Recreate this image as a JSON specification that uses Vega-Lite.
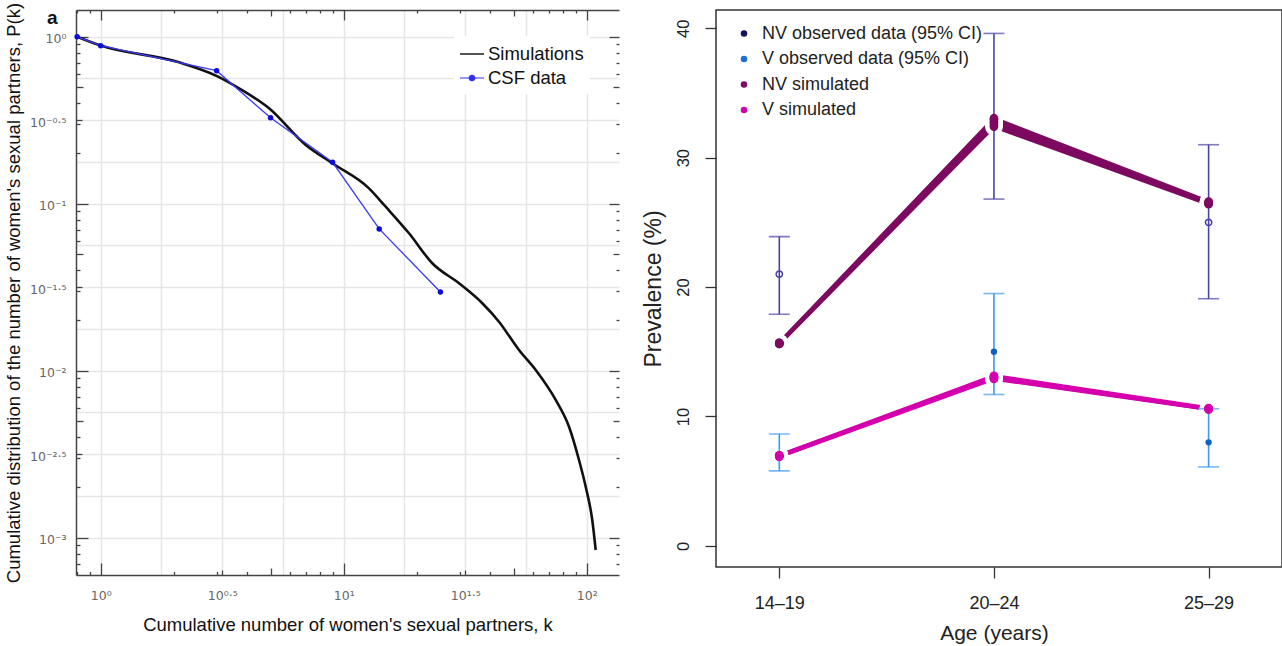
{
  "$schema": "https://vega.github.io/schema/vega-lite/v6.json",
  "background": "white",
  "padding": {"left": 4, "top": 2, "right": 0, "bottom": 0},
  "config": {"font": "Liberation Sans"},
  "datasets": {
    "sim": [
      {"k": 0.8, "P": 1.0}, {"k": 1.0, "P": 0.885}, {"k": 2.1, "P": 0.703}, {"k": 3.01, "P": 0.581},
      {"k": 3.71, "P": 0.491}, {"k": 4.93, "P": 0.3726}, {"k": 6.98, "P": 0.2246}, {"k": 8.98, "P": 0.1746},
      {"k": 12.71, "P": 0.1236}, {"k": 14.89, "P": 0.0959}, {"k": 18.57, "P": 0.0665}, {"k": 23.15, "P": 0.044},
      {"k": 29.83, "P": 0.03337}, {"k": 37.19, "P": 0.02535}, {"k": 43.55, "P": 0.01965}, {"k": 52.65, "P": 0.0133},
      {"k": 61.7, "P": 0.01009}, {"k": 74.55, "P": 0.00668}, {"k": 84.57, "P": 0.00462}, {"k": 92.96, "P": 0.00292},
      {"k": 99.06, "P": 0.00202}, {"k": 105.4, "P": 0.001276}, {"k": 108.9, "P": 0.000844}
    ],
    "csf": [
      {"series": "CSF data", "k": 0.8, "P": 1.0}, {"series": "CSF data", "k": 1, "P": 0.883},
      {"series": "CSF data", "k": 3, "P": 0.626}, {"series": "CSF data", "k": 5, "P": 0.327},
      {"series": "CSF data", "k": 9, "P": 0.177}, {"series": "CSF data", "k": 14, "P": 0.0706},
      {"series": "CSF data", "k": 25, "P": 0.0296}
    ],
    "simPrev": [
      {"series": "NV simulated", "run": 1, "age": "14–19", "prev": 15.6}, {"series": "NV simulated", "run": 1, "age": "20–24", "prev": 32.4}, {"series": "NV simulated", "run": 1, "age": "25–29", "prev": 26.4},
      {"series": "NV simulated", "run": 2, "age": "14–19", "prev": 15.65}, {"series": "NV simulated", "run": 2, "age": "20–24", "prev": 32.55}, {"series": "NV simulated", "run": 2, "age": "25–29", "prev": 26.45},
      {"series": "NV simulated", "run": 3, "age": "14–19", "prev": 15.7}, {"series": "NV simulated", "run": 3, "age": "20–24", "prev": 32.7}, {"series": "NV simulated", "run": 3, "age": "25–29", "prev": 26.5},
      {"series": "NV simulated", "run": 4, "age": "14–19", "prev": 15.6}, {"series": "NV simulated", "run": 4, "age": "20–24", "prev": 32.8}, {"series": "NV simulated", "run": 4, "age": "25–29", "prev": 26.5},
      {"series": "NV simulated", "run": 5, "age": "14–19", "prev": 15.65}, {"series": "NV simulated", "run": 5, "age": "20–24", "prev": 32.95}, {"series": "NV simulated", "run": 5, "age": "25–29", "prev": 26.55},
      {"series": "NV simulated", "run": 6, "age": "14–19", "prev": 15.7}, {"series": "NV simulated", "run": 6, "age": "20–24", "prev": 33.05}, {"series": "NV simulated", "run": 6, "age": "25–29", "prev": 26.6},
      {"series": "V simulated", "run": 1, "age": "14–19", "prev": 6.9}, {"series": "V simulated", "run": 1, "age": "20–24", "prev": 12.9}, {"series": "V simulated", "run": 1, "age": "25–29", "prev": 10.55},
      {"series": "V simulated", "run": 2, "age": "14–19", "prev": 6.95}, {"series": "V simulated", "run": 2, "age": "20–24", "prev": 12.95}, {"series": "V simulated", "run": 2, "age": "25–29", "prev": 10.6},
      {"series": "V simulated", "run": 3, "age": "14–19", "prev": 7.0}, {"series": "V simulated", "run": 3, "age": "20–24", "prev": 13.0}, {"series": "V simulated", "run": 3, "age": "25–29", "prev": 10.6},
      {"series": "V simulated", "run": 4, "age": "14–19", "prev": 6.95}, {"series": "V simulated", "run": 4, "age": "20–24", "prev": 13.05}, {"series": "V simulated", "run": 4, "age": "25–29", "prev": 10.55},
      {"series": "V simulated", "run": 5, "age": "14–19", "prev": 6.9}, {"series": "V simulated", "run": 5, "age": "20–24", "prev": 13.1}, {"series": "V simulated", "run": 5, "age": "25–29", "prev": 10.6},
      {"series": "V simulated", "run": 6, "age": "14–19", "prev": 7.0}, {"series": "V simulated", "run": 6, "age": "20–24", "prev": 13.15}, {"series": "V simulated", "run": 6, "age": "25–29", "prev": 10.65}
    ],
    "obsNV": [
      {"age": "14–19", "prev": 21.0, "lo": 17.9, "hi": 23.9},
      {"age": "20–24", "prev": 32.6, "lo": 26.8, "hi": 39.6},
      {"age": "25–29", "prev": 25.0, "lo": 19.1, "hi": 31.0}
    ],
    "obsV": [
      {"age": "14–19", "prev": 7.0, "lo": 5.8, "hi": 8.65},
      {"age": "20–24", "prev": 15.0, "lo": 11.7, "hi": 19.5},
      {"age": "25–29", "prev": 8.0, "lo": 6.1, "hi": 10.6}
    ]
  },
  "hconcat": [
    {
      "width": 543,
      "height": 565,
      "view": {"stroke": null},
      "resolve": {"axis": {"x": "independent", "y": "independent"}},
      "layer": [
        {
          "data": {"name": "sim"},
          "mark": {"type": "line", "color": "#111111", "strokeWidth": 2.6, "interpolate": "monotone"},
          "encoding": {
            "x": {"field": "k", "type": "quantitative", "scale": {"type": "log", "domain": [0.7914, 135.8], "nice": false},
              "axis": {
                "orient": "bottom",
                "values": [0.8,0.9,1,1.7782794,2,3,3.1622777,4,5,5.6234133,6,7,8,9,10,17.782794,20,30,31.622777,40,50,56.234133,60,70,80,90,100],
                "grid": true, "gridColor": "#e6e6e6", "gridWidth": 1.5,
                "gridOpacity": {"condition": {"test": "abs(4*log(datum.value)/LN10-round(4*log(datum.value)/LN10))<1e-4", "value": 1}, "value": 0},
                "domain": true, "domainColor": "#444444", "domainWidth": 1.5,
                "ticks": true, "tickColor": "#444444", "tickWidth": 1.3,
                "tickSize": {"condition": [
                  {"test": "abs(log(datum.value)/LN10-round(log(datum.value)/LN10))<1e-4", "value": -12},
                  {"test": "abs(datum.value/pow(10,floor(log(datum.value)/LN10+1e-6))-5)<1e-4", "value": -7},
                  {"test": "abs(2*log(datum.value)/LN10-round(2*log(datum.value)/LN10))<1e-4", "value": -5},
                  {"test": "abs(4*log(datum.value)/LN10-round(4*log(datum.value)/LN10))<1e-4", "value": 0}
                ], "value": -3.5},
                "labelExpr": "abs(2*log(datum.value)/LN10-round(2*log(datum.value)/LN10))<1e-4 ? ['10⁰','10⁰·⁵','10¹','10¹·⁵','10²'][round(2*log(datum.value)/LN10)] : ''",
                "labelFont": "DejaVu Sans", "labelFontSize": 12.5, "labelColor": "#666666",
                "labelPadding": {"condition": [
                  {"test": "abs(log(datum.value)/LN10-round(log(datum.value)/LN10))<1e-4", "value": 26.7},
                  {"test": "abs(2*log(datum.value)/LN10-round(2*log(datum.value)/LN10))<1e-4", "value": 19.7}
                ], "value": 18},
                "labelOverlap": false, "labelFlush": false, "labelBound": false,
                "title": "Cumulative number of women's sexual partners, k",
                "titleFont": "Liberation Sans", "titleFontSize": 18.5, "titleFontWeight": "normal", "titleColor": "#111111", "titlePadding": 10
              }
            },
            "y": {"field": "P", "type": "quantitative", "scale": {"type": "log", "domain": [0.000598, 1.4451], "nice": false},
              "axis": {
                "orient": "left",
                "values": [1,0.9,0.8,0.7,0.6,0.56234133,0.5,0.4,0.31622777,0.3,0.2,0.17782794,0.1,0.09,0.08,0.07,0.06,0.056234133,0.05,0.04,0.031622777,0.03,0.02,0.017782794,0.01,0.009,0.008,0.007,0.006,0.0056234133,0.005,0.004,0.0031622777,0.003,0.002,0.0017782794,0.001,0.0009,0.0008,0.0007],
                "grid": true, "gridColor": "#e6e6e6", "gridWidth": 1.5,
                "gridOpacity": {"condition": {"test": "abs(4*log(datum.value)/LN10-round(4*log(datum.value)/LN10))<1e-4", "value": 1}, "value": 0},
                "domain": true, "domainColor": "#444444", "domainWidth": 1.5,
                "ticks": true, "tickColor": "#444444", "tickWidth": 1.3,
                "tickSize": {"condition": [
                  {"test": "abs(log(datum.value)/LN10-round(log(datum.value)/LN10))<1e-4", "value": -12},
                  {"test": "abs(datum.value/pow(10,floor(log(datum.value)/LN10+1e-6))-5)<1e-4", "value": -7},
                  {"test": "abs(2*log(datum.value)/LN10-round(2*log(datum.value)/LN10))<1e-4", "value": -6},
                  {"test": "abs(4*log(datum.value)/LN10-round(4*log(datum.value)/LN10))<1e-4", "value": 0}
                ], "value": -4},
                "labelExpr": "abs(2*log(datum.value)/LN10-round(2*log(datum.value)/LN10))<1e-4 ? ['10⁰','10⁻⁰·⁵','10⁻¹','10⁻¹·⁵','10⁻²','10⁻²·⁵','10⁻³'][-round(2*log(datum.value)/LN10)] : ''",
                "labelFont": "DejaVu Sans", "labelFontSize": 12.5, "labelColor": "#666666", "labelOffset": 2,
                "labelPadding": {"condition": [
                  {"test": "abs(log(datum.value)/LN10-round(log(datum.value)/LN10))<1e-4", "value": 22},
                  {"test": "abs(2*log(datum.value)/LN10-round(2*log(datum.value)/LN10))<1e-4", "value": 16}
                ], "value": 14},
                "labelOverlap": false, "labelFlush": false, "labelBound": false,
                "title": "Cumulative distribution of the number of women's sexual partners, P(k)",
                "titleFont": "Liberation Sans", "titleFontSize": 18.5, "titleFontWeight": "normal", "titleColor": "#111111", "titlePadding": 6
              }
            }
          }
        },
        {
          "data": {"name": "csf"},
          "mark": {"type": "line", "color": "#3a3af2", "strokeWidth": 1.3, "point": {"filled": true, "size": 30, "color": "#0b0bd6", "opacity": 1}},
          "encoding": {
            "x": {"field": "k", "type": "quantitative", "scale": {"type": "log", "domain": [0.7914, 135.8], "nice": false},
              "axis": {
                "orient": "top", "title": null, "labels": false, "grid": false,
                "values": [0.8,0.9,1,2,3,4,5,6,7,8,9,10,20,30,40,50,60,70,80,90,100],
                "domain": true, "domainColor": "#444444", "domainWidth": 1.5,
                "tickColor": "#444444", "tickWidth": 1.3,
                "tickSize": {"condition": [
                  {"test": "abs(log(datum.value)/LN10-round(log(datum.value)/LN10))<1e-4", "value": -10},
                  {"test": "abs(datum.value/pow(10,floor(log(datum.value)/LN10+1e-6))-5)<1e-4", "value": -6}
                ], "value": -3}
              }
            },
            "y": {"field": "P", "type": "quantitative", "scale": {"type": "log", "domain": [0.000598, 1.4451], "nice": false},
              "axis": {
                "orient": "right", "title": null, "labels": false, "grid": false, "domain": false,
                "values": [1,0.9,0.8,0.7,0.6,0.5,0.4,0.3,0.2,0.1,0.09,0.08,0.07,0.06,0.05,0.04,0.03,0.02,0.01,0.009,0.008,0.007,0.006,0.005,0.004,0.003,0.002,0.001,0.0009,0.0008,0.0007],
                "tickColor": "#444444", "tickWidth": 1.3,
                "tickSize": {"condition": [
                  {"test": "abs(log(datum.value)/LN10-round(log(datum.value)/LN10))<1e-4", "value": -10},
                  {"test": "abs(datum.value/pow(10,floor(log(datum.value)/LN10+1e-6))-5)<1e-4", "value": -6}
                ], "value": -3}
              }
            }
          }
        },
        {
          "data": {"name": "csf"},
          "mark": {"type": "point", "filled": true, "opacity": 0},
          "encoding": {
            "x": {"field": "k", "type": "quantitative", "scale": {"type": "log", "domain": [0.7914, 135.8], "nice": false}, "axis": null},
            "y": {"field": "P", "type": "quantitative", "scale": {"type": "log", "domain": [0.000598, 1.4451], "nice": false}, "axis": null},
            "color": {"field": "series", "type": "nominal",
              "scale": {"domain": ["Simulations", "CSF data"], "range": ["#111111", "#2f2ff0"]},
              "legend": {"orient": "none", "legendX": 378, "legendY": 26, "title": null, "fillColor": "white", "padding": 6,
                "symbolSize": 576, "symbolOpacity": 1, "symbolStrokeWidth": 0, "labelLimit": 0,
                "labelFont": "Liberation Sans", "labelFontSize": 18.5, "labelColor": "#111111", "labelOffset": 4, "rowPadding": 2}},
            "shape": {"field": "series", "type": "nominal",
              "scale": {"domain": ["Simulations", "CSF data"], "range": ["M-1,-0.06H1V0.06H-1Z", "M-1,-0.045H1V0.045H-1ZM0.28,0A0.28,0.28,0,1,1,-0.28,0A0.28,0.28,0,1,1,0.28,0Z"]},
              "legend": {"orient": "none", "legendX": 378, "legendY": 26, "title": null, "fillColor": "white", "padding": 6,
                "symbolSize": 576, "symbolOpacity": 1, "symbolStrokeWidth": 0, "labelLimit": 0,
                "labelFont": "Liberation Sans", "labelFontSize": 18.5, "labelColor": "#111111", "labelOffset": 4, "rowPadding": 2}}
          }
        },
        {
          "data": {"values": [{}]},
          "mark": {"type": "text", "text": "a", "font": "Liberation Sans", "fontSize": 19, "fontWeight": "bold", "color": "#111111", "align": "left", "baseline": "alphabetic"},
          "encoding": {
            "x": {"datum": 0.601, "type": "quantitative", "scale": {"type": "log", "domain": [0.7914, 135.8], "nice": false}, "axis": null},
            "y": {"datum": 1.191, "type": "quantitative", "scale": {"type": "log", "domain": [0.000598, 1.4451], "nice": false}, "axis": null}
          }
        }
      ]
    },
    {
      "width": 566,
      "height": 557,
      "view": {"stroke": "#333333", "strokeWidth": 1.5},
      "encoding": {
        "x": {"field": "age", "type": "ordinal", "title": "Age (years)",
          "scale": {"type": "point", "domain": ["14–19", "20–24", "25–29"], "range": [63.3, 492.6], "padding": 0},
          "axis": {"domain": false, "grid": false, "ticks": true, "tickSize": 11, "tickColor": "#333333", "tickWidth": 1.3,
            "labelAngle": 0, "labelFont": "Liberation Sans", "labelFontSize": 18, "labelColor": "#222222", "labelPadding": 16.5,
            "titleFont": "Liberation Sans", "titleFontSize": 21, "titleFontWeight": "normal", "titleColor": "#222222", "titlePadding": 10}},
        "y": {"field": "prev", "type": "quantitative", "title": "Prevalence (%)",
          "scale": {"domain": [-1.63, 41.41], "nice": false, "zero": false},
          "axis": {"values": [0, 10, 20, 30, 40], "domain": false, "grid": false, "tickSize": 11, "tickColor": "#333333", "tickWidth": 1.3,
            "labelAngle": -90, "labelAlign": "center", "labelBaseline": "bottom", "labelFont": "Liberation Sans", "labelFontSize": 16.5, "labelColor": "#222222", "labelPadding": 13.5,
            "titleFont": "Liberation Sans", "titleFontSize": 23, "titleFontWeight": "normal", "titleColor": "#222222", "titlePadding": 10}}
      },
      "layer": [
        {
          "data": {"name": "simPrev"},
          "transform": [{"filter": "datum.series === 'NV simulated'"}],
          "mark": {"type": "line", "color": "#7d0a60", "strokeWidth": 3.5},
          "encoding": {"detail": {"field": "run", "type": "nominal"}}
        },
        {
          "data": {"name": "simPrev"},
          "transform": [{"filter": "datum.series === 'V simulated'"}],
          "mark": {"type": "line", "color": "#d400ad", "strokeWidth": 3.5},
          "encoding": {"detail": {"field": "run", "type": "nominal"}}
        },
        {
          "data": {"name": "simPrev"},
          "mark": {"type": "point", "filled": true, "color": "white", "opacity": 1, "size": 320}
        },
        {
          "data": {"name": "obsNV"},
          "mark": {"type": "errorbar", "ticks": true, "size": 21, "thickness": 1.6, "color": "#4a43a6"},
          "encoding": {
            "y": {"field": "lo", "type": "quantitative", "title": "Prevalence (%)", "scale": {"domain": [-1.63, 41.41], "nice": false, "zero": false}},
            "y2": {"field": "hi"}
          }
        },
        {
          "data": {"name": "obsV"},
          "mark": {"type": "errorbar", "ticks": true, "size": 21, "thickness": 1.6, "color": "#3d9af0"},
          "encoding": {
            "y": {"field": "lo", "type": "quantitative", "title": "Prevalence (%)", "scale": {"domain": [-1.63, 41.41], "nice": false, "zero": false}},
            "y2": {"field": "hi"}
          }
        },
        {
          "data": {"name": "obsNV"},
          "mark": {"type": "point", "filled": false, "color": "#4a43a6", "strokeWidth": 1.5, "size": 40, "opacity": 1}
        },
        {
          "data": {"name": "obsV"},
          "mark": {"type": "point", "filled": true, "color": "#0a62c8", "size": 40, "opacity": 1}
        },
        {
          "data": {"name": "simPrev"},
          "mark": {"type": "point", "filled": true, "size": 75, "opacity": 1},
          "encoding": {
            "color": {"field": "series", "type": "nominal",
              "scale": {"domain": ["NV observed data (95% CI)", "V observed data (95% CI)", "NV simulated", "V simulated"], "range": ["#10105e", "#1a6fd6", "#7d0a60", "#d400ad"]},
              "legend": {"orient": "none", "legendX": 19, "legendY": 14.5, "title": null, "padding": 0,
                "symbolType": "circle", "symbolSize": 42, "symbolStrokeWidth": 0, "symbolOpacity": 1, "labelLimit": 0,
                "labelFont": "Liberation Sans", "labelFontSize": 18, "labelColor": "#222222", "labelOffset": 9, "rowPadding": 7.5}}
          }
        }
      ]
    }
  ],
  "spacing": 97,
  "bounds": "flush",
  "resolve": {"scale": {"color": "independent", "shape": "independent"}, "legend": {"color": "independent", "shape": "independent"}}
}
